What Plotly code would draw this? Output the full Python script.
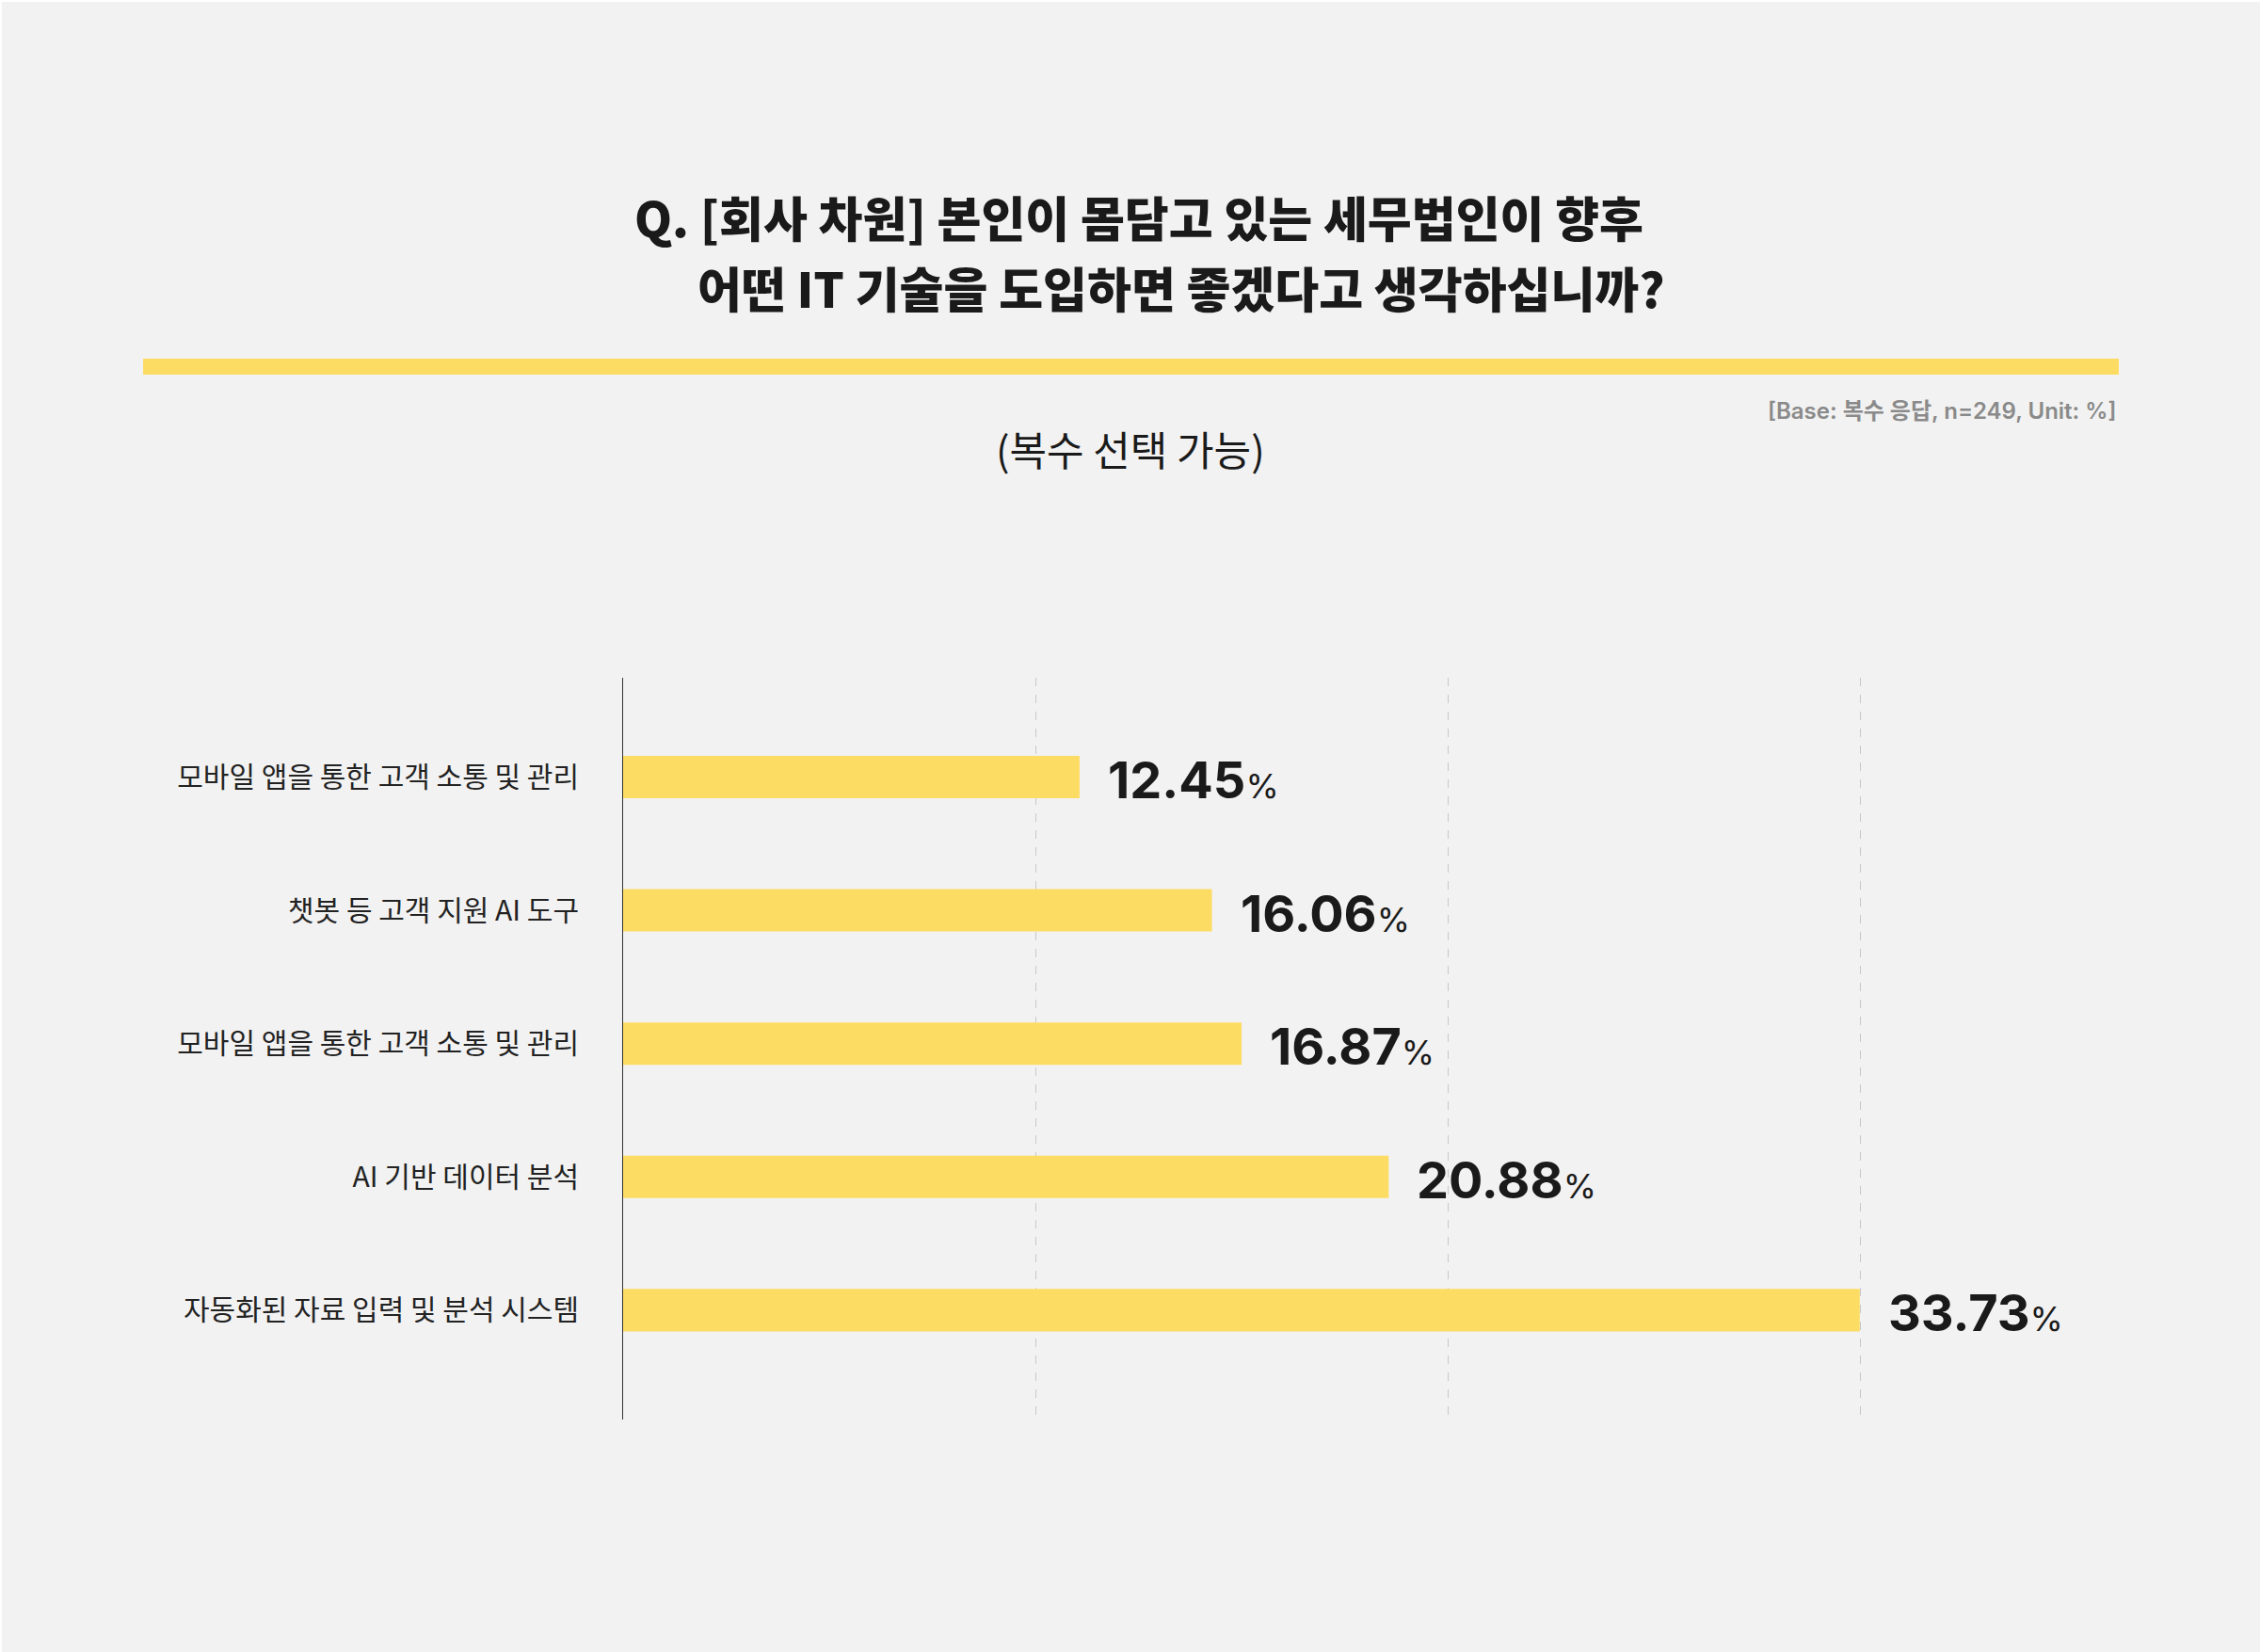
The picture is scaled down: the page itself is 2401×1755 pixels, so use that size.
import plotly.graph_objects as go

categories = [
    "모바일 앱을 통한 고객 소통 및 관리",
    "챗봇 등 고객 지원 AI 도구",
    "모바일 앱을 통한 고객 소통 및 관리",
    "AI 기반 데이터 분석",
    "자동화된 자료 입력 및 분석 시스템",
]
values = [12.45, 16.06, 16.87, 20.88, 33.73]

title_line1 = "Q. [회사 차원] 본인이 몸담고 있는 세무법인이 향후"
title_line2 = "어떤 IT 기술을 도입하면 좋겠다고 생각하십니까?"
subtitle = "(복수 선택 가능)"
base_note = "[Base: 복수 응답, n=249, Unit: %]"

OFF = 2  # page offset of the figure
W, H = 2401 - OFF, 1755 - OFF
ML, MR, MT, MB = 662 - OFF, 181, 720 - OFF, 249 - OFF
PW, PH = W - ML - MR, H - MT - MB


def px(x):
    return (x - OFF - ML) / PW


def py(y):
    return 1 - (y - OFF - MT) / PH


BAR = "#FDDC64"
KR = "Noto Sans CJK KR"

idx = list(range(len(categories)))

fig = go.Figure()
fig.add_trace(go.Bar(
    x=values, y=idx, orientation="h", width=0.318,
    marker=dict(color=BAR, line=dict(width=0)),
    hoverinfo="skip",
))

annotations = []
for i, v in zip(idx, values):
    annotations.append(dict(
        x=v, y=i, xref="x", yref="y", xanchor="left", yanchor="middle",
        xshift=28, yshift=-3, showarrow=False,
        text=f"<b>{v:.2f}</b><span style='font-size:36px;font-weight:400'>%</span>",
        font=dict(family="Inter, " + KR, size=54, color="#1a1a1a"),
    ))

annotations += [
    dict(x=px(672), y=py(230), xref="paper", yref="paper", xanchor="left", yanchor="middle",
         showarrow=False, text=title_line1,
         font=dict(family=KR, size=51, color="#1a1a1a", weight=900)),
    dict(x=px(739), y=py(305), xref="paper", yref="paper", xanchor="left", yanchor="middle",
         showarrow=False, text=title_line2,
         font=dict(family=KR, size=51, color="#1a1a1a", weight=900)),
    dict(x=px(1201), y=py(476), xref="paper", yref="paper", xanchor="center", yanchor="middle",
         showarrow=False, text=subtitle,
         font=dict(family=KR, size=43, color="#1a1a1a")),
    dict(x=px(2250), y=py(437), xref="paper", yref="paper", xanchor="right", yanchor="middle",
         showarrow=False, text=base_note,
         font=dict(family="Inter, " + KR, size=24, color="#8a8a8a", weight=600)),
]

shapes = [
    dict(type="rect", xref="paper", yref="paper", x0=px(152), x1=px(2251), y0=py(398), y1=py(381),
         fillcolor=BAR, line=dict(width=0), layer="below"),
]

fig.update_layout(
    width=W, height=H,
    margin=dict(l=ML, r=MR, t=MT, b=MB, autoexpand=False),
    paper_bgcolor="#F2F2F2", plot_bgcolor="#F2F2F2",
    showlegend=False,
    annotations=annotations, shapes=shapes,
    xaxis=dict(range=[0, 40], tickvals=[11.25, 22.5, 33.75], showticklabels=False,
               showgrid=True, gridcolor="#c8c8c8", griddash="dash", gridwidth=1,
               zeroline=False, showline=False, ticks=""),
    yaxis=dict(range=[4.82, -0.745], tickvals=idx, ticktext=categories,
               showgrid=False, zeroline=False, showline=True, linecolor="#333333", linewidth=1,
               ticks="", ticklabelstandoff=40,
               tickfont=dict(family=KR, size=30, color="#222222")),
)

fig.write_html(
    "out.html",
    post_script="document.body.style.margin='2px 0 0 2px';document.body.style.overflow='hidden';document.body.style.background='#ffffff';",
)
